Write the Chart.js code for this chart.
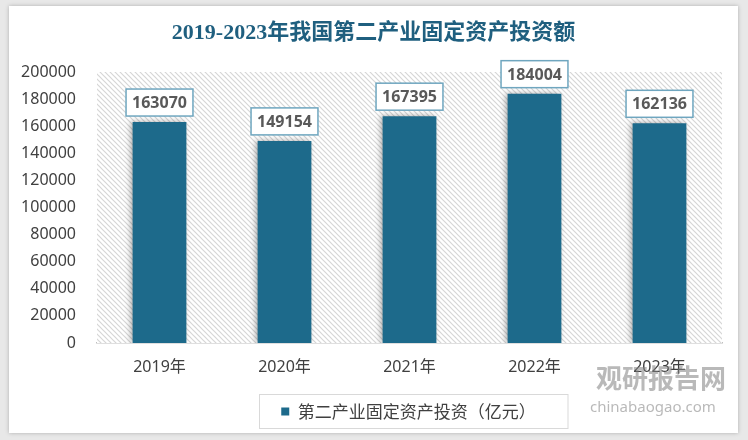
<!DOCTYPE html>
<html>
<head>
<meta charset="utf-8">
<script src="https://cdn.jsdelivr.net/npm/chart.js@4.4.1/dist/chart.umd.min.js"></script>
<style>
    html, body { margin: 0; padding: 0; background: #e8e8e8; }
    #card {
        position: absolute; left: 9px; top: 6px; width: 729px; height: 427px;
        background: #fff; box-shadow: 0 0 4px rgba(0, 0, 0, 0.25);
    }
</style>
</head>
<body>
<div id="card"><canvas id="ctChart" width="729" height="427"></canvas></div>
<script>
const years = ['2019年', '2020年', '2021年', '2022年', '2023年'];
const investment = [163070, 149154, 167395, 184004, 162136];
const seriesName = '第二产业固定资产投资（亿元）';
const yMax = 200000;
const yStep = 20000;

// diagonal hatch for the plot background
const hatch = (() => {
    const c = document.createElement('canvas');
    c.width = 5; c.height = 5;
    const g = c.getContext('2d');
    g.fillStyle = '#ffffff';
    g.fillRect(0, 0, 5, 5);
    g.strokeStyle = '#d6d6d6';
    g.lineWidth = 1.2;
    g.beginPath();
    g.moveTo(-1, -1); g.lineTo(6, 6);
    g.moveTo(-1, 4); g.lineTo(1, 6);
    g.moveTo(4, -1); g.lineTo(6, 1);
    g.stroke();
    return g.createPattern(c, 'repeat');
})();

const plotBg = {
    id: 'plotBg',
    afterLayout(chart) {
        // legend sits a bit right of centre in the original
        const lg = chart.legend;
        if (lg) { lg.left += 35; lg.right += 35; }
    },
    beforeDatasetsDraw(chart) {
        const { ctx, chartArea: a } = chart;
        ctx.save();
        ctx.fillStyle = hatch;
        ctx.fillRect(a.left, a.top, a.right - a.left, a.bottom - a.top);
        ctx.restore();
        ctx.save();
        ctx.shadowColor = 'rgba(0,0,0,0.35)';
        ctx.shadowBlur = 6;
        ctx.shadowOffsetX = -2;
    },
    afterDatasetsDraw(chart) {
        chart.ctx.restore();
    }
};

const valueBoxes = {
    id: 'valueBoxes',
    afterDatasetsDraw(chart) {
        const { ctx } = chart;
        const meta = chart.getDatasetMeta(0);
        ctx.save();
        ctx.font = 'bold 16px "Noto Sans", sans-serif';
        ctx.textAlign = 'center';
        ctx.textBaseline = 'middle';
        meta.data.forEach((bar, i) => {
            const txt = String(investment[i]);
            const w = ctx.measureText(txt).width + 12;
            const h = 27;
            const bx = bar.x - w / 2;
            const by = bar.y - 6 - h;
            ctx.fillStyle = '#ffffff';
            ctx.fillRect(bx, by, w, h);
            ctx.strokeStyle = '#6fa6bf';
            ctx.lineWidth = 1.5;
            ctx.strokeRect(bx, by, w, h);
            ctx.fillStyle = '#595959';
            ctx.fillText(txt, bar.x, by + h / 2 + 1);
        });
        ctx.restore();
    }
};

const legendFrame = {
    id: 'legendFrame',
    afterDraw(chart) {
        const lg = chart.legend;
        if (!lg || !lg.legendHitBoxes.length) return;
        const hb = lg.legendHitBoxes[0];
        const { ctx } = chart;
        ctx.save();
        ctx.strokeStyle = '#d9d9d9';
        ctx.lineWidth = 1;
        ctx.strokeRect(Math.round(hb.left - 22) + 0.5, Math.round(hb.top - 9) + 0.5, hb.width + 54, 34);
        // watermark
        ctx.globalAlpha = 0.55;
        ctx.fillStyle = '#7f7f7f';
        ctx.font = 'bold 26px "Noto Sans CJK SC", sans-serif';
        ctx.textAlign = 'left';
        ctx.textBaseline = 'middle';
        ctx.fillText('观研报告网', 587, 372);
        ctx.font = '15px "Noto Sans", sans-serif';
        ctx.fillText('chinabaogao.com', 581, 402);
        ctx.restore();
    }
};

new Chart(document.getElementById('ctChart'), {
    type: 'bar',
    data: {
        labels: years,
        datasets: [{
            label: seriesName,
            data: investment,
            backgroundColor: '#1d6a8b',
            borderWidth: 0,
            barPercentage: 0.43,
            categoryPercentage: 1
        }]
    },
    options: {
        responsive: false,
        animation: false,
        layout: { padding: { bottom: 3 } },
        plugins: {
            title: {
                display: true,
                text: '2019-2023年我国第二产业固定资产投资额',
                color: '#1f5f7f',
                font: { family: '"Liberation Serif", "Noto Sans CJK SC", serif', size: 22, weight: 'bold' },
                padding: { top: 14, bottom: 25.6 }
            },
            legend: {
                position: 'bottom',
                labels: {
                    boxWidth: 8,
                    boxHeight: 8,
                    padding: 14,
                    color: '#404040',
                    font: { family: '"Noto Sans CJK SC", sans-serif', size: 17 }
                }
            },
            tooltip: { enabled: false }
        },
        scales: {
            y: {
                min: 0,
                max: yMax,
                ticks: {
                    stepSize: yStep,
                    padding: 13,
                    color: '#404040',
                    font: { family: '"Noto Sans", sans-serif', size: 16 },
                    callback: (v) => String(v)
                },
                grid: { display: false },
                border: { display: false },
                afterFit(axis) { axis.width = 88; }
            },
            right: {
                position: 'right',
                display: true,
                ticks: { display: false },
                grid: { display: false },
                border: { display: false },
                afterFit(axis) { axis.width = 16; }
            },
            x: {
                ticks: {
                    padding: 7,
                    color: '#404040',
                    font: { family: '"Noto Sans", "Noto Sans CJK SC", sans-serif', size: 16 }
                },
                grid: { display: false },
                border: { color: '#bfbfbf', width: 1.5 },
                afterFit(axis) { axis.height = 46; }
            }
        }
    },
    plugins: [plotBg, valueBoxes, legendFrame]
});
</script>
</body>
</html>
